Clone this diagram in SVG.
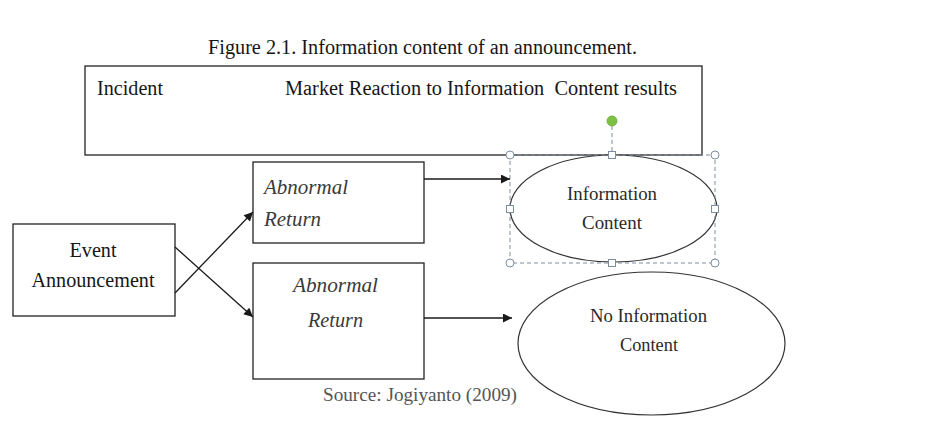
<svg xmlns="http://www.w3.org/2000/svg" width="934" height="427" viewBox="0 0 934 427">
  <style>
    .t { font-family: "Liberation Serif", "Times New Roman", serif; fill: #161616; font-size: 20px; }
    .it { font-family: "Liberation Serif", "Times New Roman", serif; fill: #3a3a3a; font-size: 20px; font-style: italic; }
    .el { font-family: "Liberation Serif", "Times New Roman", serif; fill: #2a2a2a; font-size: 18px; }
    .src { font-family: "Liberation Serif", "Times New Roman", serif; fill: #555; font-size: 18px; }
    .box { fill: #fff; stroke: #222; stroke-width: 1.3; }
    .oval { fill: #fff; stroke: #333; stroke-width: 1.2; }
    .edge { stroke: #1a1a1a; stroke-width: 1.3; fill: none; marker-end: url(#arrow); }
    .sel { fill: none; stroke: #7d8ea3; stroke-width: 1; stroke-dasharray: 4 3; }
    .h { fill: #fff; stroke: #7d8ea3; stroke-width: 1; }
  </style>
  <defs>
    <marker id="arrow" viewBox="0 0 10 10" refX="10" refY="5" markerWidth="10" markerHeight="9" markerUnits="userSpaceOnUse" orient="auto">
      <path d="M0,0 L10,5 L0,10 Z" fill="#1a1a1a"/>
    </marker>
  </defs>
  <rect width="934" height="427" fill="#fff"/>

  <text class="t" x="208" y="54" textLength="429" lengthAdjust="spacingAndGlyphs">Figure 2.1. Information content of an announcement.</text>

  <g id="header">
    <rect class="box" x="85" y="66" width="617" height="89"/>
    <text class="t" x="97" y="95" textLength="66" lengthAdjust="spacingAndGlyphs">Incident</text>
    <text class="t" x="285" y="95" textLength="392" lengthAdjust="spacingAndGlyphs" xml:space="preserve">Market Reaction to Information  Content results</text>
  </g>

  <g id="event">
    <rect class="box" x="13" y="224" width="162" height="92"/>
    <text class="t" x="93" y="257" text-anchor="middle" textLength="47" lengthAdjust="spacingAndGlyphs">Event</text>
    <text class="t" x="93" y="287" text-anchor="middle" textLength="123" lengthAdjust="spacingAndGlyphs">Announcement</text>
  </g>

  <g id="abnormal-return-1">
    <rect class="box" x="253" y="162" width="171" height="81"/>
    <text class="it" x="264" y="194" textLength="84" lengthAdjust="spacingAndGlyphs">Abnormal</text>
    <text class="it" x="264" y="226" textLength="57" lengthAdjust="spacingAndGlyphs">Return</text>
  </g>

  <g id="abnormal-return-2">
    <rect class="box" x="253" y="263" width="171" height="116"/>
    <text class="it" x="293" y="292" textLength="85" lengthAdjust="spacingAndGlyphs">Abnormal</text>
    <text class="it" x="308" y="327" textLength="55" lengthAdjust="spacingAndGlyphs">Return</text>
  </g>

  <g id="information-content">
    <ellipse class="oval" cx="613.5" cy="208.5" rx="103.5" ry="53.5"/>
    <text class="el" x="612" y="200" text-anchor="middle" textLength="90" lengthAdjust="spacingAndGlyphs">Information</text>
    <text class="el" x="612" y="229" text-anchor="middle" textLength="60" lengthAdjust="spacingAndGlyphs">Content</text>
    <!-- selection frame with resize and rotate handles -->
    <rect class="sel" x="510" y="155" width="205" height="108"/>
    <line class="sel" x1="612" y1="126" x2="612" y2="152"/>
    <circle cx="612" cy="121" r="5" fill="#7cc242" stroke="#6aa83a" stroke-width="0.8"/>
    <circle class="h" cx="510" cy="155" r="4"/>
    <circle class="h" cx="715" cy="155" r="4"/>
    <circle class="h" cx="510" cy="263" r="4"/>
    <circle class="h" cx="715" cy="263" r="4"/>
    <rect class="h" x="608.5" y="151.5" width="7" height="7"/>
    <rect class="h" x="608.5" y="259.5" width="7" height="7"/>
    <rect class="h" x="506.5" y="205.5" width="7" height="7"/>
    <rect class="h" x="711.5" y="205.5" width="7" height="7"/>
  </g>

  <g id="no-information-content">
    <ellipse class="oval" cx="651.5" cy="343.5" rx="133.5" ry="71.5"/>
    <text class="el" x="648.5" y="322" text-anchor="middle" textLength="117" lengthAdjust="spacingAndGlyphs">No Information</text>
    <text class="el" x="649" y="351" text-anchor="middle" textLength="58" lengthAdjust="spacingAndGlyphs">Content</text>
  </g>

  <g id="connectors">
    <line class="edge" x1="175" y1="247" x2="253" y2="317"/>
    <line class="edge" x1="175" y1="293" x2="253" y2="212"/>
    <line class="edge" x1="424" y1="179" x2="510" y2="179"/>
    <line class="edge" x1="424" y1="318" x2="512" y2="318"/>
  </g>

  <text class="src" x="323" y="401" textLength="194" lengthAdjust="spacingAndGlyphs">Source: Jogiyanto (2009)</text>
</svg>
